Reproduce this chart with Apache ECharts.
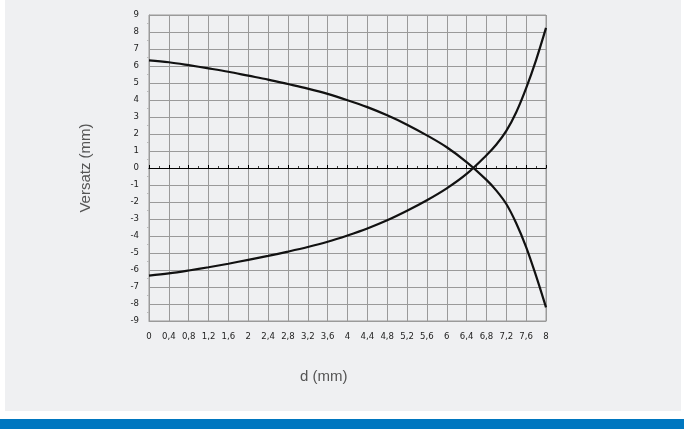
<!DOCTYPE html>
<html>
<head>
<meta charset="utf-8">
<script src="https://cdn.jsdelivr.net/npm/echarts@6/dist/echarts.min.js"></script>
<style>
  body { margin: 0; background: #fff; }
  #wrap { position: relative; width: 684px; height: 429px; }
  .panel { position: absolute; left: 5px; top: 0; width: 676px; height: 411px; background: #eff0f2; }
  .bar { position: absolute; left: 0; top: 419px; width: 684px; height: 10px; background: #0077c0; }
  #chart { position: absolute; left: 0; top: 0; width: 684px; height: 429px; }
</style>
</head>
<body>
<div id="wrap">
  <div class="panel"></div>
  <div class="bar"></div>
  <div id="chart"></div>
</div>
<script>
// d in mm
const dValues = [0, 0.4, 0.8, 1.2, 1.6, 2, 2.4, 2.8, 3.2, 3.6, 4, 4.4, 4.8, 5.2, 5.6, 6, 6.4, 6.8, 7, 7.2, 7.4, 7.6, 7.8, 8];
// Versatz, falling curve
const upperValues = [6.33, 6.22, 6.05, 5.86, 5.66, 5.43, 5.2, 4.94, 4.67, 4.36, 3.99, 3.58, 3.1, 2.55, 1.92, 1.22, 0.35, -0.7, -1.33, -2.12, -3.25, -4.65, -6.35, -8.2];
// Versatz, rising curve
const lowerValues = [-6.33, -6.2, -6.03, -5.84, -5.63, -5.4, -5.17, -4.92, -4.65, -4.34, -3.97, -3.56, -3.08, -2.52, -1.9, -1.2, -0.35, 0.75, 1.38, 2.18, 3.28, 4.7, 6.35, 8.24];
const xTickLabels = ['0', '0,4', '0,8', '1,2', '1,6', '2', '2,4', '2,8', '3,2', '3,6', '4', '4,4', '4,8', '5,2', '5,6', '6', '6,4', '6,8', '7,2', '7,6', '8'];

const labelFont = { fontFamily: 'Liberation Sans Narrow, DejaVu Sans Condensed, sans-serif', fontSize: 9.5, color: '#222' };
const gridColor = '#9a9a9a';

const chart = echarts.init(document.getElementById('chart'));
chart.setOption({
    animation: false,
    grid: { left: 149, right: 138, top: 15, bottom: 108 },
    xAxis: [
        {
            type: 'value', min: 0, max: 8, interval: 0.4,
            axisLine: { onZero: false, lineStyle: { color: gridColor } },
            axisTick: { show: false },
            splitLine: { show: true, lineStyle: { color: gridColor } },
            axisLabel: Object.assign({
                margin: 11,
                formatter: function (v) { return xTickLabels[Math.round(v / 0.4)]; }
            }, labelFont)
        },
        {
            type: 'value', min: 0, max: 8, interval: 0.4, position: 'bottom',
            axisLine: { onZero: true, lineStyle: { color: '#000', width: 1.2 } },
            axisTick: { show: true, inside: true, length: 3, lineStyle: { color: '#000' } },
            minorTick: { show: true, splitNumber: 2, length: 2, lineStyle: { color: '#444' } },
            splitLine: { show: false },
            axisLabel: { show: false }
        }
    ],
    yAxis: {
        type: 'value', min: -9, max: 9, interval: 1,
        name: 'Versatz (mm)', nameLocation: 'middle', nameGap: 56,
        nameTextStyle: { fontFamily: 'Liberation Sans, sans-serif', fontSize: 15, color: '#555' },
        axisLine: { show: true, lineStyle: { color: gridColor } },
        axisTick: { show: false },
        minorTick: { show: true, splitNumber: 2, length: 2, lineStyle: { color: '#bbb' } },
        splitLine: { show: true, lineStyle: { color: gridColor } },
        axisLabel: Object.assign({ margin: 10 }, labelFont)
    },
    graphic: [{
        type: 'text', left: 300, top: 369,
        style: { text: 'd (mm)', fontFamily: 'Liberation Sans, sans-serif', fontSize: 15, fill: '#555' }
    }, {
        type: 'rect', shape: { x: 149, y: 15, width: 397, height: 306 },
        style: { fill: 'none', stroke: gridColor, lineWidth: 1 }, silent: true
    }],
    series: [
        {
            type: 'line', smooth: 0.35, showSymbol: false, xAxisIndex: 0,
            lineStyle: { color: '#111', width: 2.2 },
            data: dValues.map((d, i) => [d, upperValues[i]])
        },
        {
            type: 'line', smooth: 0.35, showSymbol: false, xAxisIndex: 0,
            lineStyle: { color: '#111', width: 2.2 },
            data: dValues.map((d, i) => [d, lowerValues[i]])
        }
    ]
});
</script>
</body>
</html>
